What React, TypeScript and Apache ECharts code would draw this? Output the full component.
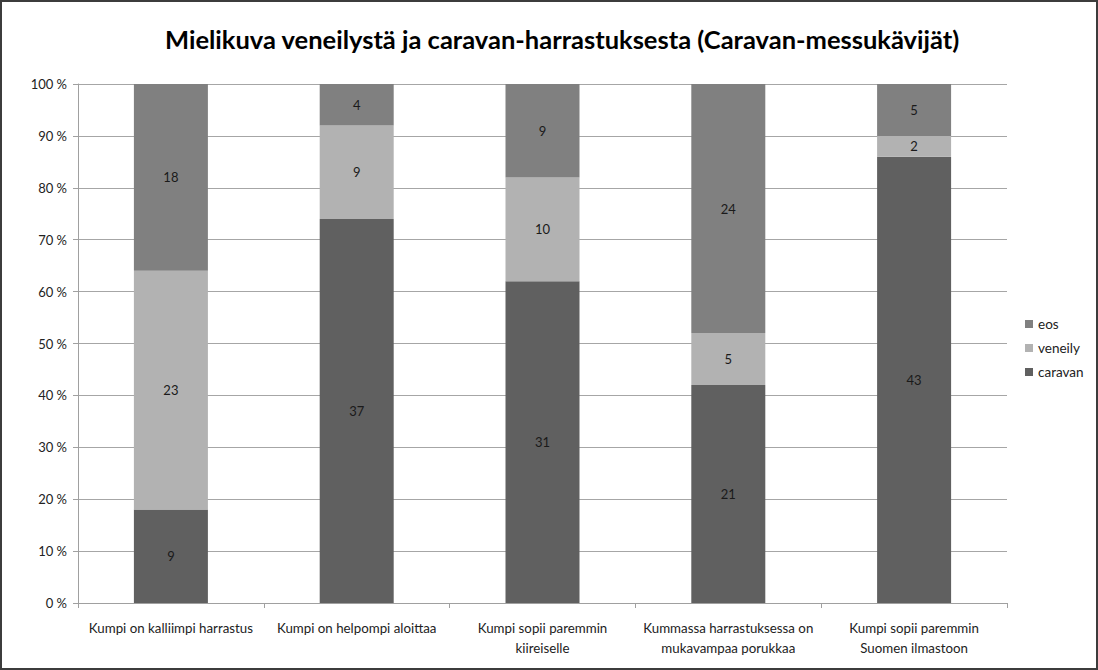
import React, { useEffect, useRef } from "react";
import * as echarts from "echarts";

const categories = [
  "Kumpi on kalliimpi harrastus",
  "Kumpi on helpompi aloittaa",
  "Kumpi sopii paremmin\nkiireiselle",
  "Kummassa harrastuksessa on\nmukavampaa porukkaa",
  "Kumpi sopii paremmin\nSuomen ilmastoon",
];
const caravan = [9, 37, 31, 21, 43];
const veneily = [23, 9, 10, 5, 2];
const eos = [18, 4, 9, 24, 5];
const yTicks = [0, 10, 20, 30, 40, 50, 60, 70, 80, 90, 100];

const FONT = "Lato, 'Open Sans', sans-serif";

export default function App() {
  const ref = useRef<HTMLDivElement>(null);
  useEffect(() => {
    if (!ref.current) return;
    const chart = echarts.init(ref.current, undefined, { renderer: "svg" });
    const totals = categories.map((_, i) => caravan[i] + veneily[i] + eos[i]);
    const pct = (arr: number[]) => arr.map((v, i) => ({ value: (v / totals[i]) * 100, raw: v }));
    const mk = (name: string, arr: number[], color: string) => ({
      name,
      type: "bar",
      stack: "s",
      barWidth: 74,
      data: pct(arr),
      itemStyle: { color },
      label: {
        show: true,
        position: "inside",
        color: "#1a1a1a",
        fontFamily: FONT,
        fontSize: 13,
        formatter: (p: any) => String(p.data.raw),
      },
    });
    chart.setOption({
      animation: false,
      backgroundColor: "#ffffff",
      textStyle: { fontFamily: FONT },
      title: {
        text: "Mielikuva veneilystä ja caravan-harrastuksesta (Caravan-messukävijät)",
        left: 160,
        top: 21,
        textStyle: { fontFamily: FONT, fontSize: 25.5, fontWeight: "bold", color: "#000" },
      },
      legend: {
        orient: "vertical",
        left: 1020,
        top: 312,
        itemWidth: 8,
        itemHeight: 8,
        itemGap: 10,
        icon: "rect",
        data: ["eos", "veneily", "caravan"],
        textStyle: { fontFamily: FONT, fontSize: 13.5, color: "#222" },
      },
      grid: { left: 78, right: 91, top: 84, bottom: 67, containLabel: false },
      xAxis: {
        type: "category",
        data: categories,
        axisLine: { lineStyle: { color: "#a0a0a0" } },
        axisTick: { show: true, length: 5, lineStyle: { color: "#a0a0a0" } },
        axisLabel: {
          interval: 0,
          margin: 15,
          color: "#222",
          fontFamily: FONT,
          fontSize: 13.3,
          lineHeight: 20,
        },
      },
      yAxis: {
        type: "value",
        min: 0,
        max: 100,
        interval: 10,
        axisLine: { show: true, lineStyle: { color: "#a0a0a0" } },
        axisTick: { show: true, length: 5, lineStyle: { color: "#a0a0a0" } },
        splitLine: { lineStyle: { color: "#a6a6a6" } },
        axisLabel: {
          margin: 11,
          color: "#222",
          fontFamily: FONT,
          fontSize: 13,
          formatter: (v: number) => (yTicks.includes(v) ? `${v} %` : ""),
        },
      },
      graphic: [
        {
          type: "rect",
          shape: { x: 1, y: 1, width: 1096, height: 668 },
          style: { fill: "none", stroke: "#3c3c3c", lineWidth: 2 },
          silent: true,
        },
      ],
      series: [
        mk("caravan", caravan, "#606060"),
        mk("veneily", veneily, "#b2b2b2"),
        mk("eos", eos, "#808080"),
      ],
    });
    return () => chart.dispose();
  }, []);
  return (
    <div
      ref={ref}
      style={{ position: "fixed", left: 0, top: 0, width: 1098, height: 670 }}
    />
  );
}
